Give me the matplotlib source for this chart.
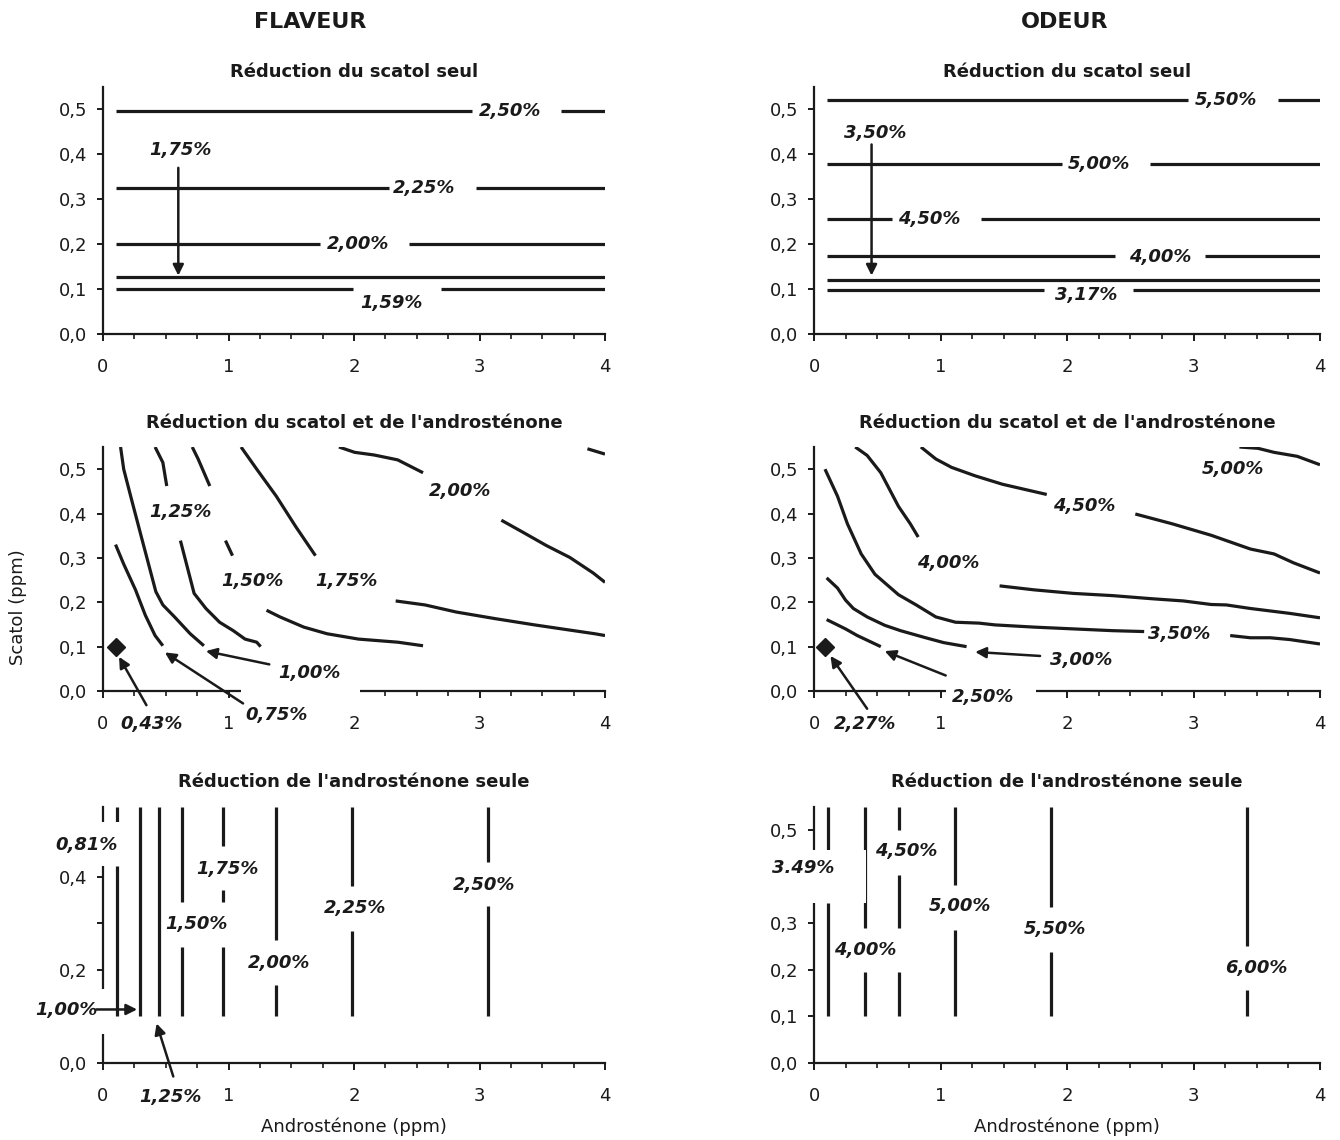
import matplotlib
matplotlib.use("Agg")
import matplotlib.pyplot as plt
import numpy as np
from matplotlib.patches import Rectangle
from matplotlib.ticker import MultipleLocator, FuncFormatter

nan = np.nan
plt.rcParams['font.family'] = ['DejaVu Sans']

# ---------------- donnees ----------------
x_debut, x_fin = 0.1, 4.0

# FLAVEUR - reduction du scatol seul (niveaux horizontaux)
fs_y = [0.496, 0.324, 0.200, 0.128, 0.100]
fs_gap = [(2.94, 3.65), (2.28, 2.97), (1.73, 2.44), None, (1.99, 2.69)]
fs_lab = ["2,50%", "2,25%", "2,00%", "1,75%", "1,59%"]
fs_lab_xy = [(3.24, 0.496), (2.56, 0.324), (2.03, 0.200), (0.62, 0.410), (2.30, 0.068)]
fs_fleches = [((0.60, 0.370), (0.60, 0.130))]

# ODEUR - reduction du scatol seul
os_y = [0.522, 0.378, 0.256, 0.174, 0.121, 0.099]
os_gap = [(2.96, 3.67), (1.96, 2.66), (0.62, 1.32), (2.38, 3.09), None, (1.82, 2.52)]
os_lab = ["5,50%", "5,00%", "4,50%", "4,00%", "3,50%", "3,17%"]
os_lab_xy = [(3.26, 0.522), (2.25, 0.378), (0.91, 0.256), (2.74, 0.172), (0.48, 0.448), (2.15, 0.087)]
os_fleches = [((0.455, 0.422), (0.455, 0.130))]

# FLAVEUR - reduction du scatol et de l'androstenone (isolignes)
fc_x = [
    [0.10, 0.165, 0.259, 0.337, 0.415, 0.477],
    [0.14, 0.165, 0.228, 0.306, 0.421, 0.477, 0.57, 0.695, 0.804],
    [0.415, 0.477, 0.508, nan, 0.617, 0.726, 0.82, 0.929, 1.038, 1.132, 1.225, 1.256],
    [0.711, 0.758, 0.851, nan, 0.976, 1.032, nan, 1.303, 1.41, 1.60, 1.786, 2.036, 2.35, 2.55],
    [1.10, 1.225, 1.381, 1.537, 1.693, nan, 2.332, 2.566, 2.815, 3.127, 3.439, 3.751, 3.92, 4.0],
    [1.88, 2.005, 2.16, 2.348, 2.55, nan, 3.174, 3.345, 3.532, 3.72, 3.906, 4.0],
    [3.86, 4.0],
]
fc_y = [
    [0.330, 0.286, 0.228, 0.171, 0.125, 0.102],
    [0.550, 0.500, 0.431, 0.347, 0.224, 0.194, 0.167, 0.129, 0.102],
    [0.550, 0.515, 0.462, nan, 0.339, 0.220, 0.186, 0.155, 0.136, 0.117, 0.110, 0.100],
    [0.550, 0.523, 0.462, nan, 0.339, 0.305, nan, 0.182, 0.167, 0.144, 0.129, 0.117, 0.110, 0.102],
    [0.550, 0.500, 0.439, 0.370, 0.305, nan, 0.203, 0.194, 0.178, 0.163, 0.149, 0.136, 0.129, 0.125],
    [0.550, 0.538, 0.532, 0.521, 0.492, nan, 0.385, 0.358, 0.328, 0.301, 0.266, 0.245],
    [0.546, 0.534],
]
fc_lab = ["1,25%", "1,50%", "1,75%", "2,00%", "1,00%", "0,75%", "0,43%"]
fc_lab_xy = [(0.617, 0.404), (1.188, 0.247), (1.936, 0.247), (2.846, 0.450),
             (1.646, 0.041), (1.38, -0.055), (0.383, -0.074)]
fc_fleches = [((0.346, -0.032), (0.128, 0.077)),
              ((1.116, -0.028), (0.493, 0.087)),
              ((1.325, 0.060), (0.820, 0.090))]
fc_min = (0.10, 0.10)

# ODEUR - reduction du scatol et de l'androstenone
oc_x = [
    [0.10, 0.249, 0.342, 0.528],
    [0.10, 0.186, 0.249, 0.311, 0.42, 0.56, 0.684, 0.87, 1.026, 1.206],
    [0.087, 0.186, 0.264, 0.373, 0.482, 0.668, 0.808, 0.963, 1.119, 1.305, 1.43, 1.74,
     2.05, 2.36, 2.61, nan, 3.29, 3.45, 3.605, 3.76, 4.0],
    [0.326, 0.42, 0.528, 0.668, 0.761, 0.824, nan, 1.467, 1.74, 2.05, 2.36, 2.67, 2.92,
     3.14, 3.26, 3.45, 3.76, 4.0],
    [0.845, 0.963, 1.088, 1.274, 1.49, 1.84, nan, 2.54, 2.83, 3.14, 3.45, 3.636, 3.79, 4.0],
    [3.363, 3.51, 3.636, 3.82, 4.0],
]
oc_y = [
    [0.161, 0.140, 0.125, 0.100],
    [0.255, 0.232, 0.205, 0.186, 0.167, 0.148, 0.136, 0.121, 0.109, 0.100],
    [0.500, 0.439, 0.377, 0.309, 0.263, 0.217, 0.194, 0.167, 0.155, 0.153, 0.149, 0.144,
     0.140, 0.136, 0.134, nan, 0.125, 0.120, 0.120, 0.116, 0.106],
    [0.550, 0.531, 0.492, 0.416, 0.377, 0.347, nan, 0.237, 0.228, 0.220, 0.215, 0.208, 0.203,
     0.195, 0.194, 0.186, 0.175, 0.165],
    [0.550, 0.523, 0.504, 0.485, 0.466, 0.443, nan, 0.399, 0.377, 0.351, 0.320, 0.309, 0.289, 0.266],
    [0.550, 0.547, 0.538, 0.529, 0.510],
]
oc_lab = ["5,00%", "4,50%", "4,00%", "3,50%", "3,00%", "2,50%", "2,27%"]
oc_lab_xy = [(3.31, 0.500), (2.138, 0.416), (1.057, 0.289), (2.89, 0.129),
             (2.113, 0.071), (1.336, -0.013), (0.404, -0.074)]
oc_fleches = [((0.42, -0.040), (0.13, 0.079)),
              ((1.041, 0.035), (0.559, 0.090)),
              ((1.787, 0.079), (1.274, 0.088))]
oc_min = (0.09, 0.10)

# FLAVEUR - reduction de l'androstenone seule (niveaux verticaux)
fa_x = [0.108, 0.297, 0.443, 0.628, 0.954, 1.378, 1.981, 3.068]
fa_y = [
    [0.10, 0.423, nan, 0.517, 0.55],
    [0.10, 0.55],
    [0.10, 0.55],
    [0.10, 0.250, nan, 0.345, 0.55],
    [0.10, 0.250, nan, 0.345, 0.371, nan, 0.466, 0.55],
    [0.10, 0.168, nan, 0.265, 0.55],
    [0.10, 0.284, nan, 0.380, 0.55],
    [0.10, 0.337, nan, 0.432, 0.55],
]
fa_lab = ["0,81%", "1,00%", "1,25%", "1,50%", "1,75%", "2,00%", "2,25%", "2,50%"]
fa_lab_xy = [(-0.13, 0.468), (-0.294, 0.114), (0.536, -0.073), (0.743, 0.299),
             (0.994, 0.417), (1.40, 0.214), (2.01, 0.333), (3.04, 0.383)]
fa_fleches = [((-0.053, 0.115), (0.272, 0.115)),
              ((0.56, -0.029), (0.427, 0.085))]

# ODEUR - reduction de l'androstenone seule
oa_x = [0.11, 0.405, 0.675, 1.114, 1.873, 3.426]
oa_y = [
    [0.10, 0.344, nan, 0.458, 0.55],
    [0.10, 0.195, nan, 0.291, 0.55],
    [0.10, 0.195, nan, 0.291, 0.403, nan, 0.500, 0.55],
    [0.10, 0.285, nan, 0.383, 0.55],
    [0.10, 0.238, nan, 0.336, 0.55],
    [0.10, 0.156, nan, 0.252, 0.55],
]
oa_lab = ["3.49%", "4,00%", "4,50%", "5,00%", "5,50%", "6,00%"]
oa_lab_xy = [(-0.088, 0.420), (0.405, 0.243), (0.728, 0.455), (1.15, 0.337),
             (1.904, 0.288), (3.50, 0.205)]
oa_y_cachee = 0.4   # graduation masquee par l'etiquette 3.49%

# caches blancs des etiquettes (x0, x1, y0, y1) qui coupent les axes
fc_caches = [(1.10, 2.05, -0.025, 0.02)]
oc_caches = [(1.04, 1.756, -0.025, 0.02)]
fa_caches = [(-0.45, 0.13, 0.423, 0.517), (-0.50, 0.02, 0.063, 0.160)]
oa_caches = [(-0.45, 0.409, 0.344, 0.458)]

# ---------------- figure ----------------
noir = '#1a1a1a'
LW = 2.3
fig = plt.figure(figsize=(13.4, 11.4), dpi=100)

colx = [103 / 1340, 814 / 1340]
colw = [502 / 1340, 506 / 1340]
rows = [(1 - 334 / 1140, 247 / 1140), (1 - 691 / 1140, 244 / 1140), (1 - 1063 / 1140, 256 / 1140)]
titres = ["Réduction du scatol seul", "Réduction du scatol et de l'androsténone",
          "Réduction de l'androsténone seule"]
pads = [7.5, 13.5, 14.5]

fmt_y = FuncFormatter(lambda v, p: f"{v:.1f}".replace('.', ','))

axes = {}
for r, (b, h) in enumerate(rows):
    for c in range(2):
        ax = fig.add_axes([colx[c], b, colw[c], h])
        ax.set_xlim(0, 4)
        ax.set_ylim(0, 0.55)
        for s in ['top', 'right']:
            ax.spines[s].set_visible(False)
        for s in ['left', 'bottom']:
            ax.spines[s].set_linewidth(1.6)
            ax.spines[s].set_color(noir)
        ax.xaxis.set_major_locator(MultipleLocator(1))
        ax.xaxis.set_minor_locator(MultipleLocator(0.25))
        ax.yaxis.set_major_locator(MultipleLocator(0.1))
        ax.xaxis.set_major_formatter(FuncFormatter(lambda v, p: f"{v:.0f}"))
        ax.yaxis.set_major_formatter(fmt_y)
        ax.tick_params(axis='x', which='major', length=5, width=1.4, pad=12,
                       labelsize=13, colors=noir)
        ax.tick_params(axis='x', which='minor', length=3.5, width=1.2, colors=noir)
        ax.tick_params(axis='y', which='major', length=4.5, width=1.4, pad=7,
                       labelsize=13, colors=noir)
        ax.tick_params(axis='y', which='minor', length=4.5, width=1.4, colors=noir)
        ax.set_title(titres[r], fontsize=13, fontweight='bold', pad=pads[r], color=noir)
        axes[(r, c)] = ax

# axe des y du panneau androstenone seule (flaveur) : graduation 0,2
axes[(2, 0)].yaxis.set_major_locator(MultipleLocator(0.2))
axes[(2, 0)].yaxis.set_minor_locator(MultipleLocator(0.1))
# axe des y du panneau androstenone seule (odeur) : 0,4 cachee
axes[(2, 1)].yaxis.set_major_formatter(
    FuncFormatter(lambda v, p: "" if abs(v - oa_y_cachee) < 1e-6 else f"{v:.1f}".replace('.', ',')))


def etiquettes(ax, labs, xy):
    for t, (x, y) in zip(labs, xy):
        ax.text(x, y, t, ha='center', va='center', fontsize=13, fontweight='bold',
                fontstyle='italic', color=noir, zorder=6, clip_on=False)


def fleches(ax, fl):
    for (x0, y0), (x1, y1) in fl:
        ax.annotate('', xy=(x1, y1), xytext=(x0, y0), annotation_clip=False, zorder=6,
                    arrowprops=dict(arrowstyle='-|>', color=noir, lw=1.8,
                                    mutation_scale=16, shrinkA=0, shrinkB=0))


def caches(ax, cs):
    for x0, x1, y0, y1 in cs:
        ax.add_patch(Rectangle((x0, y0), x1 - x0, y1 - y0, fc='white', ec='none',
                               zorder=4, clip_on=False))


def horizontales(ax, ys, gaps):
    for y, g in zip(ys, gaps):
        if g is None:
            xs, yy = [x_debut, x_fin], [y, y]
        else:
            xs, yy = [x_debut, g[0], nan, g[1], x_fin], [y, y, nan, y, y]
        ax.plot(xs, yy, color=noir, lw=LW, solid_capstyle='butt')


# ligne 1
ax = axes[(0, 0)]
horizontales(ax, fs_y, fs_gap)
etiquettes(ax, fs_lab, fs_lab_xy)
fleches(ax, fs_fleches)

ax = axes[(0, 1)]
horizontales(ax, os_y, os_gap)
etiquettes(ax, os_lab, os_lab_xy)
fleches(ax, os_fleches)

# ligne 2
ax = axes[(1, 0)]
for xs, ys in zip(fc_x, fc_y):
    ax.plot(xs, ys, color=noir, lw=LW, solid_capstyle='butt')
ax.plot(*fc_min, marker='D', ms=9, color=noir, zorder=5)
caches(ax, fc_caches)
etiquettes(ax, fc_lab, fc_lab_xy)
fleches(ax, fc_fleches)

ax = axes[(1, 1)]
for xs, ys in zip(oc_x, oc_y):
    ax.plot(xs, ys, color=noir, lw=LW, solid_capstyle='butt')
ax.plot(*oc_min, marker='D', ms=9, color=noir, zorder=5)
caches(ax, oc_caches)
etiquettes(ax, oc_lab, oc_lab_xy)
fleches(ax, oc_fleches)

# ligne 3
ax = axes[(2, 0)]
for x, ys in zip(fa_x, fa_y):
    ax.plot([x] * len(ys), ys, color=noir, lw=LW, solid_capstyle='butt')
caches(ax, fa_caches)
etiquettes(ax, fa_lab, fa_lab_xy)
fleches(ax, fa_fleches)

ax = axes[(2, 1)]
for x, ys in zip(oa_x, oa_y):
    ax.plot([x] * len(ys), ys, color=noir, lw=LW, solid_capstyle='butt')
caches(ax, oa_caches)
etiquettes(ax, oa_lab, oa_lab_xy)

for c in range(2):
    axes[(2, c)].set_xlabel("Androsténone (ppm)", fontsize=13, labelpad=9, color=noir)

fig.text(18 / 1340, 1 - 607 / 1140, "Scatol (ppm)", rotation=90, ha='center', va='center',
         fontsize=13, color=noir)
fig.text(310 / 1340, 1 - 22 / 1140, "FLAVEUR", ha='center', va='center', fontsize=16,
         fontweight='bold', color=noir)
fig.text(1065 / 1340, 1 - 22 / 1140, "ODEUR", ha='center', va='center', fontsize=16,
         fontweight='bold', color=noir)

fig.savefig("out.png", dpi=100)
